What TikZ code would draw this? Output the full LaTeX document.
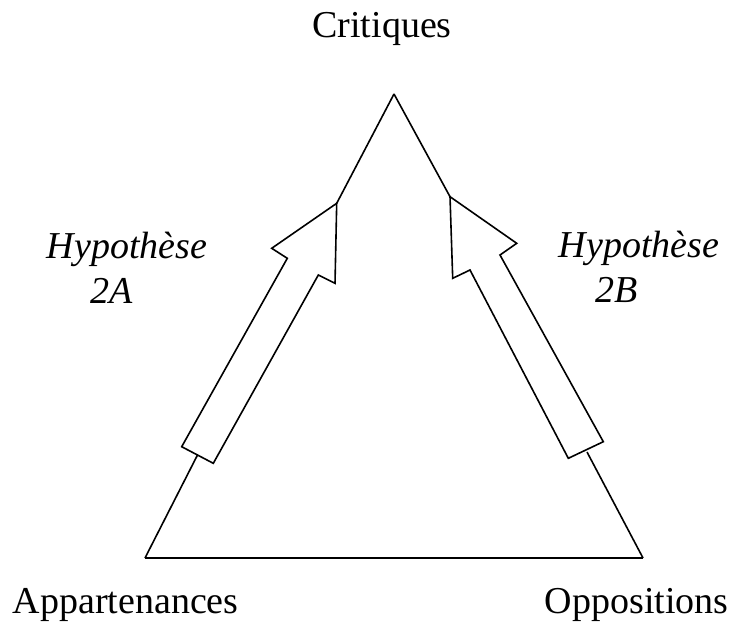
\documentclass[tikz,border=0pt]{standalone}
\usepackage{fontspec}
\setmainfont{Liberation Serif}
\begin{document}
\begin{tikzpicture}[x=0.5pt,y=-0.5pt,line width=0.8pt,line join=miter]
\tikzstyle{every node}+=[inner sep=0pt,font=\fontsize{19}{22.5}\selectfont]
\useasboundingbox (0,0) rectangle (731,621);
% corners of the triangle
\coordinate (top) at (394,94);
\coordinate (app) at (145,558);
\coordinate (opp) at (643,558);
% hollow arrow 2A
\coordinate (tipA) at (336.7,203.3);
\coordinate (tailA) at (197.5,455);
\draw [black] (tipA) -- (335,283.3) -- (318.3,275) -- (213.3,463.3) -- (181.7,446.7) -- (287.3,258.3) -- (271.7,248.3) -- cycle;
% hollow arrow 2B
\coordinate (tipB) at (450,196.7);
\coordinate (tailB) at (587,452);
\draw [black] (tipB) -- (452.7,278.3) -- (470,270) -- (568.3,458.3) -- (603.3,441.7) -- (500,255) -- (516.7,243.3) -- cycle;
% sides
\draw [black] (top) -- (tipA);
\draw [black] (tailA) -- (app);
\draw [black] (app) -- (opp);
\draw [black] (opp) -- (tailB);
\draw [black] (tipB) -- (top);
% labels
\node [anchor=base] (crit) at (382,37) {Critiques};
\node [anchor=base west] (appl) at (12,613) {Appartenances};
\node [anchor=base west] (oppl) at (544,613) {Oppositions};
\node [anchor=base west] (hypA) at (46,258) {\itshape Hypothèse};
\node [anchor=base west] (numA) at (90,303) {\itshape 2A};
\node [anchor=base west] (hypB) at (558,257) {\itshape Hypothèse};
\node [anchor=base west] (numB) at (595,302) {\itshape 2B};
\end{tikzpicture}
\end{document}
